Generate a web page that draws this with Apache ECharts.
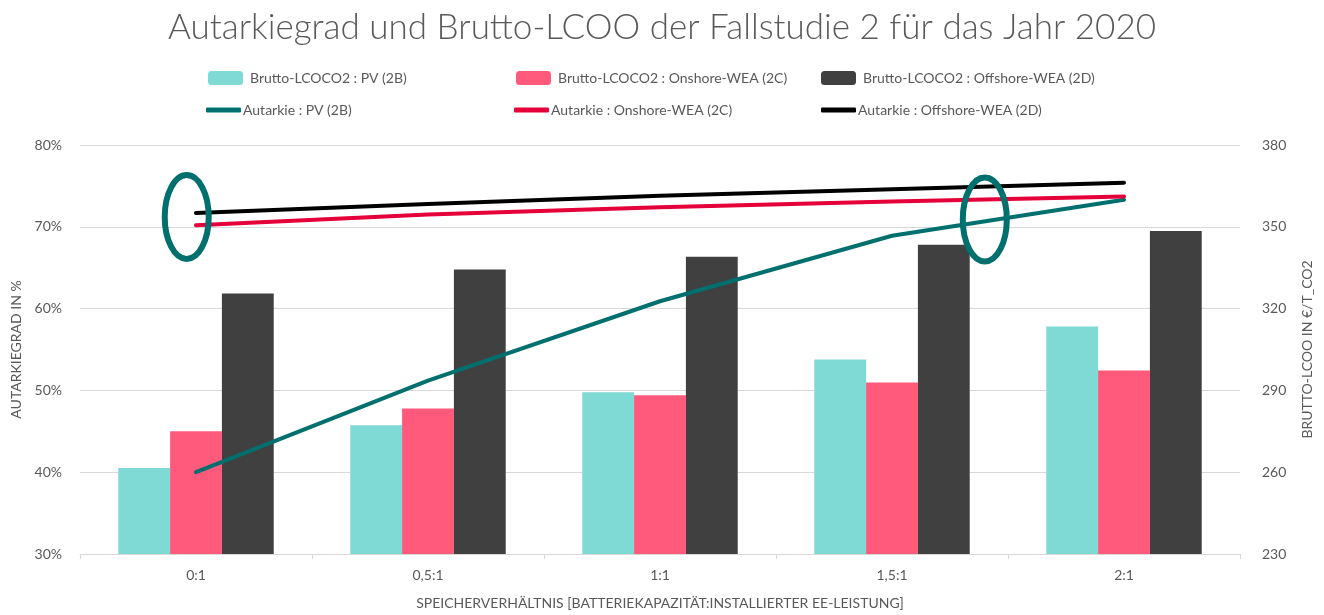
<!DOCTYPE html>
<html>
<head>
<meta charset="utf-8">
<script src="https://cdn.jsdelivr.net/npm/echarts@6/dist/echarts.min.js"></script>
<style>
  html, body { margin: 0; padding: 0; background: #fff; }
  #chart { width: 1324px; height: 615px; }
</style>
</head>
<body>
<div id="chart"></div>
<script>
const ratios = ['0:1', '0,5:1', '1:1', '1,5:1', '2:1'];

// Brutto-LCOO in €/t_CO2 (right axis)
const lcooPV = [261.5, 277.2, 289.3, 301.3, 313.4];
const lcooOnshore = [275, 283.4, 288.2, 292.9, 297.3];
const lcooOffshore = [325.5, 334.3, 339, 343.4, 348.5];

// Autarkiegrad in % (left axis)
const autPV = [40, 51.2, 60.9, 68.9, 73.3];
const autOnshore = [70.2, 71.5, 72.4, 73.1, 73.7];
const autOffshore = [71.7, 72.8, 73.8, 74.6, 75.4];

const leftTicks = { min: 30, max: 80, step: 10 };
const rightTicks = { min: 230, max: 380, step: 30 };

// highlighted spots (category position, Autarkie value)
const marks = [[-0.04, 71.2], [3.4, 70.9]];

const font = 'Lato, "Open Sans", sans-serif';
const grey = '#595959';
const colors = {
  pvBar: '#7fd9d5',
  onBar: '#ff5a7b',
  offBar: '#404040',
  pvLine: '#00706e',
  onLine: '#e5003a',
  offLine: '#000000'
};

const names = [
  'Brutto-LCOCO2 : PV (2B)',
  'Brutto-LCOCO2 : Onshore-WEA (2C)',
  'Brutto-LCOCO2 : Offshore-WEA (2D)',
  'Autarkie : PV (2B)',
  'Autarkie : Onshore-WEA (2C)',
  'Autarkie : Offshore-WEA (2D)'
];

const legendPos = [
  [203, 66], [511, 66], [816, 66],
  [201, 98], [509, 98], [816, 98]
];

const chart = echarts.init(document.getElementById('chart'));

const legends = names.map((n, i) => ({
  data: [{ name: n, icon: 'roundRect' }],
  left: legendPos[i][0],
  top: legendPos[i][1],
  itemWidth: 35,
  itemHeight: i < 3 ? 14 : 5,
  itemGap: 0,
  selectedMode: false,
  itemStyle: i < 3 ? {} : { borderRadius: 3 },
  textStyle: { color: grey, fontSize: 14, fontFamily: font, padding: [0, 0, 0, i < 3 ? 2 : -3] }
}));

const bar = (name, data, color) => ({
  name,
  type: 'bar',
  yAxisIndex: 1,
  data,
  barGap: 0,
  barCategoryGap: '33%',
  itemStyle: { color },
  z: 1
});

const line = (name, data, color) => ({
  name,
  type: 'line',
  yAxisIndex: 0,
  data,
  symbol: 'none',
  lineStyle: { color, width: 4, cap: 'round' },
  itemStyle: { color },
  z: 3
});

chart.setOption({
  animation: false,
  title: {
    text: 'Autarkiegrad und Brutto-LCOO der Fallstudie 2 für das Jahr 2020',
    left: 'center',
    top: 5,
    textStyle: { color: grey, fontSize: 35, fontWeight: 300, fontFamily: font }
  },
  legend: legends,
  grid: { left: 80, right: 84, top: 145, bottom: 58 },
  xAxis: {
    type: 'category',
    data: ratios,
    name: 'SPEICHERVERHÄLTNIS [BATTERIEKAPAZITÄT:INSTALLIERTER EE-LEISTUNG]',
    nameLocation: 'middle',
    nameGap: 42,
    nameTextStyle: { color: grey, fontSize: 14, fontFamily: font },
    axisLine: { lineStyle: { color: '#d9d9d9' } },
    axisTick: { show: true, length: 5, lineStyle: { color: '#d9d9d9' } },
    axisLabel: { color: grey, fontSize: 14, fontFamily: font, margin: 14 }
  },
  yAxis: [
    {
      type: 'value',
      min: leftTicks.min,
      max: leftTicks.max,
      interval: leftTicks.step,
      name: 'AUTARKIEGRAD IN %',
      nameLocation: 'middle',
      nameGap: 56,
      nameTextStyle: { color: grey, fontSize: 14, fontFamily: font },
      axisLabel: { color: grey, fontSize: 14, fontFamily: font, margin: 18, formatter: '{value}%' },
      splitLine: { lineStyle: { color: '#d9d9d9' } }
    },
    {
      type: 'value',
      min: rightTicks.min,
      max: rightTicks.max,
      interval: rightTicks.step,
      name: 'BRUTTO-LCOO IN €/T_CO2',
      nameLocation: 'middle',
      nameGap: 60,
      nameTextStyle: { color: grey, fontSize: 14, fontFamily: font },
      axisLabel: { color: grey, fontSize: 14, fontFamily: font, margin: 22 },
      splitLine: { show: false }
    }
  ],
  series: [
    bar(names[0], lcooPV, colors.pvBar),
    bar(names[1], lcooOnshore, colors.onBar),
    bar(names[2], lcooOffshore, colors.offBar),
    line(names[3], autPV, colors.pvLine),
    line(names[4], autOnshore, colors.onLine),
    line(names[5], autOffshore, colors.offLine)
  ]
});

// teal ellipses around the highlighted spots
const p0 = chart.convertToPixel({ xAxisIndex: 0 }, 0);
const p1 = chart.convertToPixel({ xAxisIndex: 0 }, 1);
const step = p1 - p0;
chart.setOption({
  graphic: marks.map(m => ({
    type: 'ellipse',
    shape: {
      cx: p0 + m[0] * step,
      cy: chart.convertToPixel({ yAxisIndex: 0 }, m[1]),
      rx: 22,
      ry: 42
    },
    style: { fill: null, stroke: colors.pvLine, lineWidth: 6 },
    z: 10
  }))
});
</script>
</body>
</html>
